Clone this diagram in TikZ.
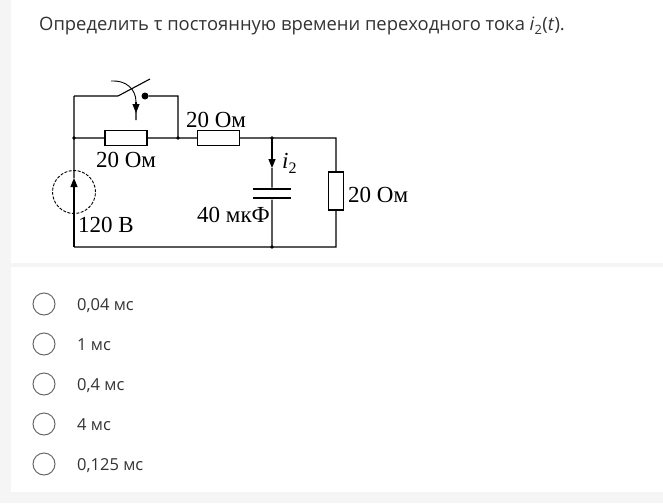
\documentclass[tikz,border=0pt]{standalone}
\usepackage{fontspec}
\setmainfont{Liberation Serif}
\newfontfamily\uifont{Open Sans}
\usetikzlibrary{arrows.meta}
\definecolor{pagegray}{HTML}{F5F5F5}
\definecolor{inkgray}{HTML}{333333}
\definecolor{ringgray}{HTML}{6A6A6A}
\tikzset{
	x=1pt, y=-1pt,
	wire/.style={line width=1.1pt},
	resistor/.style={draw, line width=1.1pt, fill=white, minimum width=42pt, minimum height=15pt, inner sep=0pt},
	plate/.style={fill=black, minimum width=38pt, minimum height=2.6pt, inner sep=0pt},
	junction/.style={circle, fill=black, minimum size=3.8pt, inner sep=0pt},
	value/.style={font=\fontsize{23}{23}\selectfont, inner sep=0pt},
	choice/.style={circle, draw=ringgray, line width=1pt, minimum size=22pt, inner sep=0pt},
	answer/.style={font=\uifont\fontsize{16.5}{16.5}\selectfont, text=inkgray, anchor=base west, inner sep=0pt},
	>={Triangle[length=9pt,width=7pt]}}
\begin{document}
\begin{tikzpicture}
		
		% page
		\useasboundingbox (0,0) rectangle (663,503);
		\fill[white] (0,0) rectangle (663,503);
		\fill[pagegray] (0,0) rectangle (11,503);
		\fill[pagegray] (11,263) rectangle (663,267);
		\fill[pagegray] (11,492) rectangle (663,503);
		
		\node[font=\uifont\fontsize{18.4}{18.4}\selectfont, text=inkgray, anchor=base west, inner sep=0pt] (title) at (39,31)
			{Определить τ постоянную времени переходного тока \textit{i}\textsubscript{2}(\textit{t}).};
		
		% circuit
		\coordinate (tl) at (74,96);
		\coordinate (ml) at (74,138);
		\coordinate (bl) at (74,247);
		\coordinate (tm) at (178,96);
		\coordinate (mm) at (178,138);
		\coordinate (mc) at (272,138);
		\coordinate (bc) at (272,247);
		\coordinate (mr) at (336,138);
		\coordinate (br) at (336,247);
		
		\node[resistor] (r1) at (126,138) {};
		\node[resistor] (r2) at (218.5,138) {};
		\node[resistor, minimum width=15pt, minimum height=38pt] (r3) at (336,191) {};
		\node[plate] (c1) at (272,189) {};
		\node[plate] (c2) at (272,198) {};
		\node[circle, draw, dash pattern=on 3pt off 1.5pt, line width=0.9pt, minimum size=43pt] (src) at (74,192) {};
		\coordinate (srctip) at (74,178);
		\coordinate (itip) at (272,168);
		
		\coordinate (sw1) at (118,96);
		\coordinate (sw2) at (150,79);
		\node[circle, fill=black, minimum size=7pt, inner sep=0pt] (swd) at (145,96) {};
		\coordinate (arcs) at (111,81);
		\coordinate (arce) at (136,102);
		\coordinate (arct) at (136,113);
		\coordinate (arcb) at (136,120);
		
		\draw[wire]
		(tl) -- (sw1) -- (sw2)
		(swd) -- (tm) -- (mm)
		(ml) -- (r1) -- (mm) -- (r2) -- (mc) -- (mr) -- (r3) -- (br) -- (bc) -- (bl)
		(srctip) -- (ml) -- (tl)
		(itip) -- (c1)
		(c2) -- (bc)
		(arce) -- (arcb)
		;
		\draw[wire, ->] (bl) -- (srctip);
		\draw[wire, ->] (mc) -- (itip);
		\draw[wire, ->] (arce) -- (arct);
		\draw[line width=0.9pt] (arcs) .. controls (126,80) and (136,89) .. (arce);
		
		\node[junction] (j1) at (ml) {};
		\node[junction] (j2) at (mm) {};
		\node[junction] (j3) at (mc) {};
		\node[junction] (j4) at (bc) {};
		
		\node[value, anchor=base] (l1) at (126,167) {20 Ом};
		\node[value, anchor=base] (l2) at (216,127) {20 Ом};
		\node[value, anchor=base west] (l3) at (348,202) {20 Ом};
		\node[value, anchor=base west] (l4) at (78,232) {120 В};
		\node[value, anchor=base west] (l5) at (197,222) {40 мкФ};
		\node[value, anchor=base west] (l6) at (282,168) {\textit{i}\raisebox{-5pt}{\fontsize{16}{16}\selectfont 2}};
		
		% answers
		\node[choice] (o1) at (44,304) {};
		\node[choice] (o2) at (44,344) {};
		\node[choice] (o3) at (44,384) {};
		\node[choice] (o4) at (44,424) {};
		\node[choice] (o5) at (44,464) {};
		\node[answer] (a1) at (77,310) {0,04 мс};
		\node[answer] (a2) at (77,350) {1 мс};
		\node[answer] (a3) at (77,390) {0,4 мс};
		\node[answer] (a4) at (77,430) {4 мс};
		\node[answer] (a5) at (77,470) {0,125 мс};
		
	\end{tikzpicture}
\end{document}
